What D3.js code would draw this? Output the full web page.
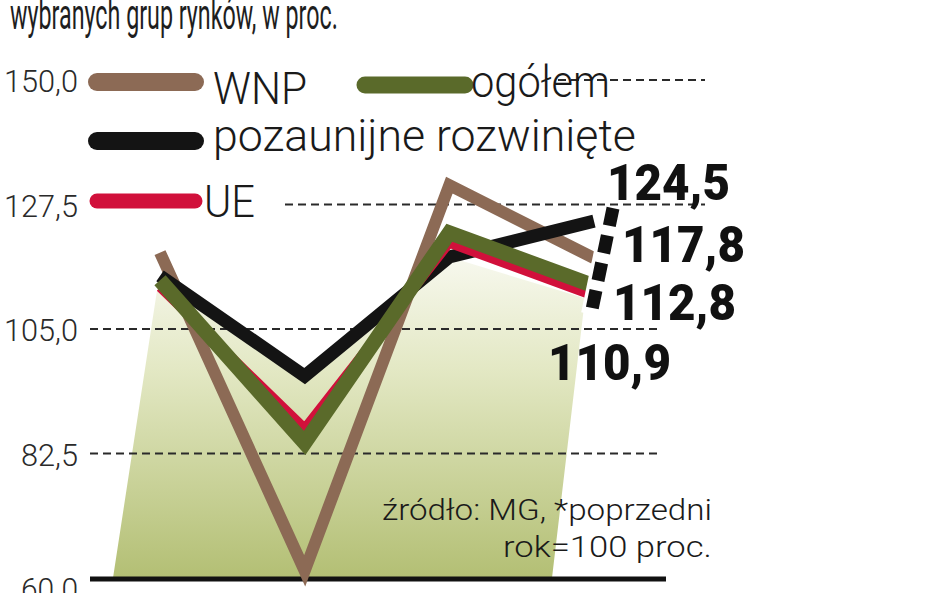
<!DOCTYPE html>
<html>
<head>
<meta charset="utf-8">
<script src="https://cdn.jsdelivr.net/npm/d3@7/dist/d3.min.js"></script>
<style>
  html, body { margin: 0; padding: 0; background: #fff; }
  svg { display: block; }
  text { font-family: Roboto, "Open Sans", "DejaVu Sans", sans-serif; }
</style>
</head>
<body>
<svg id="chart" width="948" height="593"></svg>
<script>
// ---------- data ----------
const categories = ["1", "2", "3", "4"];
const seriesNames = ["WNP", "ogółem", "pozaunijne rozwinięte", "UE"];
const wnpValues = [118.8, 61.3, 131.0, 117.8];
const ogolemValues = [113.8, 84.4, 122.4, 112.8];
const pozaunijneValues = [114.6, 96.5, 118.0, 124.5];
const ueValues = [112.5, 87.1, 120.5, 110.9];
const yTicks = [60, 82.5, 105, 127.5, 150];
const yTickLabels = ["60.0", "82,5", "105,0", "127,5", "150,0"];
const endLabels = ["124,5", "117,8", "112,8", "110,9"];
const titleText = "wybranych grup rynków, w proc.";
const sourceLines = ["źródło: MG, *poprzedni", "rok=100 proc."];

// ---------- setup ----------
const svg = d3.select("#chart");
const x = d3.scalePoint().domain(categories).range([160, 594]);
const y = d3.scaleLinear().domain([60, 150]).range([578, 80]);

const colors = {
  "WNP": "#8c6a55",
  "ogółem": "#5a6a2a",
  "pozaunijne rozwinięte": "#141414",
  "UE": "#d1103b"
};

// place a text at (px,py) and squeeze horizontally to a target width
function fitText(parent, str, px, py, width, anchor, attrs) {
  const t = parent.append("text").text(str).attr("x", 0).attr("y", 0);
  Object.entries(attrs).forEach(([k, v]) => t.attr(k, v));
  const len = t.node().getComputedTextLength();
  const s = width ? width / len : 1;
  const w = len * s;
  const ox = anchor === "end" ? px - w : (anchor === "middle" ? px - w / 2 : px);
  t.attr("transform", `translate(${ox},${py}) scale(${s},1)`);
  return t;
}

// gradient
const defs = svg.append("defs");
const grad = defs.append("linearGradient").attr("id", "fillGrad")
  .attr("x1", 0).attr("y1", 0).attr("x2", 0).attr("y2", 1);
grad.append("stop").attr("offset", "0%").attr("stop-color", "#f7f8ee");
grad.append("stop").attr("offset", "35%").attr("stop-color", "#e3e8c4");
grad.append("stop").attr("offset", "100%").attr("stop-color", "#b3bf74");

// ---------- title ----------
fitText(svg, titleText, 10, 29, 328, "start",
  { "font-size": 42, "font-weight": 400, "fill": "#1e1e1e" });

// ---------- fill area (perspective trapezoid) ----------
const fillTop = [pozaunijneValues[0], pozaunijneValues[1], pozaunijneValues[2], ueValues[3]];
const fillPts = categories.map((c, i) => [x(c) + (i === 0 ? -2 : (i === 3 ? -9 : 0)), y(fillTop[i]) + (i === 0 ? 8 : (i === 3 ? 2 : 0))]);
fillPts.push([x(categories[3]) - 42, y(60)]);
fillPts.push([x(categories[0]) - 47, y(60)]);
svg.append("path")
  .attr("d", d3.line()(fillPts) + "Z")
  .attr("fill", "url(#fillGrad)");

// ---------- grid lines ----------
const gridEnd = { 150: 705, 127.5: 705, 105: 660, 82.5: 660 };
svg.append("g").selectAll("line")
  .data(yTicks.filter(t => t !== 60))
  .join("line")
  .attr("x1", 90).attr("x2", d => gridEnd[d])
  .attr("y1", d => y(d)).attr("y2", d => y(d))
  .attr("stroke", "#2a2a2a").attr("stroke-width", 2)
  .attr("stroke-dasharray", "8,5");

// baseline
svg.append("line")
  .attr("x1", 90).attr("x2", 666)
  .attr("y1", y(60) + 1).attr("y2", y(60) + 1)
  .attr("stroke", "#111").attr("stroke-width", 5);

// y tick labels
const tickG = svg.append("g");
yTicks.forEach((d, i) => {
  const lbl = yTickLabels[i];
  fitText(tickG, lbl, 78, y(d) + (d === 60 ? 22 : 12), lbl.length === 5 ? 74 : 57, "end",
    { "font-size": 32, "font-weight": 300, "fill": "#2a2a2a" });
});

// ---------- lines ----------
const line = d3.line().x((d, i) => x(categories[i])).y(d => y(d));
const drawOrder = [
  { name: "WNP", values: wnpValues, w: 12 },
  { name: "pozaunijne rozwinięte", values: pozaunijneValues, w: 13 },
  { name: "UE", values: ueValues, w: 9 },
  { name: "ogółem", values: ogolemValues, w: 15 }
];
svg.append("g").selectAll("path")
  .data(drawOrder)
  .join("path")
  .attr("d", d => line(d.values))
  .attr("fill", "none")
  .attr("stroke", d => colors[d.name])
  .attr("stroke-width", d => d.w)
  .attr("stroke-linejoin", "miter")
  .attr("stroke-linecap", "butt");

// ---------- legend ----------
const lg = svg.append("g");
lg.append("rect").attr("x", 88).attr("y", 62).attr("width", 470).attr("height", 36).attr("fill", "#fff");
lg.append("rect").attr("x", 88).attr("y", 188).attr("width", 192).attr("height", 30).attr("fill", "#fff");
const legendItems = [
  { name: "WNP", x1: 97, x2: 195, ly: 82, tx: 213, ty: 104, w: 18, tw: 94 },
  { name: "ogółem", x1: 365, x2: 465, ly: 85, tx: 471, ty: 97, w: 17, tw: 139 },
  { name: "pozaunijne rozwinięte", x1: 97, x2: 195, ly: 141, tx: 213, ty: 151, w: 18, tw: 423 },
  { name: "UE", x1: 97, x2: 195, ly: 201, tx: 204, ty: 217, w: 15, tw: 51 }
];
legendItems.forEach(it => {
  lg.append("line")
    .attr("x1", it.x1).attr("x2", it.x2).attr("y1", it.ly).attr("y2", it.ly)
    .attr("stroke", colors[it.name]).attr("stroke-width", it.w)
    .attr("stroke-linecap", "round");
  fitText(lg, it.name, it.tx, it.ty, it.tw, "start",
    { "font-size": 44, "font-weight": 300, "fill": "#1a1a1a" });
});

// ---------- dashed connector ----------
const xl = x(categories[3]);
const cTop = [xl + 19, y(pozaunijneValues[3]) - 13];
const cBot = [xl - 3, y(ueValues[3]) + 18];
svg.append("line")
  .attr("x1", cTop[0]).attr("y1", cTop[1]).attr("x2", cBot[0]).attr("y2", cBot[1])
  .attr("stroke", "#fff").attr("stroke-width", 20);
svg.append("line")
  .attr("x1", cTop[0]).attr("y1", cTop[1]).attr("x2", cBot[0]).attr("y2", cBot[1])
  .attr("stroke", "#111").attr("stroke-width", 13)
  .attr("stroke-dasharray", "18,10");

// ---------- end labels ----------
const endLayout = [
  { dx: 13, by: 200 },
  { dx: 28, by: 262 },
  { dx: 19, by: 320 },
  { dx: -46, by: 380 }
];
const endG = svg.append("g");
endLabels.forEach((d, i) => {
  fitText(endG, d, xl + endLayout[i].dx, endLayout[i].by, 123, "start",
    { "font-size": 50, "font-weight": 900, "fill": "#111" });
});

// ---------- source ----------
const srcG = svg.append("g");
sourceLines.forEach((d, i) => {
  fitText(srcG, d, 712, 520 + i * 37, i === 0 ? 330 : 209, "end",
    { "font-size": 30, "font-weight": 300, "fill": "#1a1a1a" });
});
</script>
</body>
</html>
